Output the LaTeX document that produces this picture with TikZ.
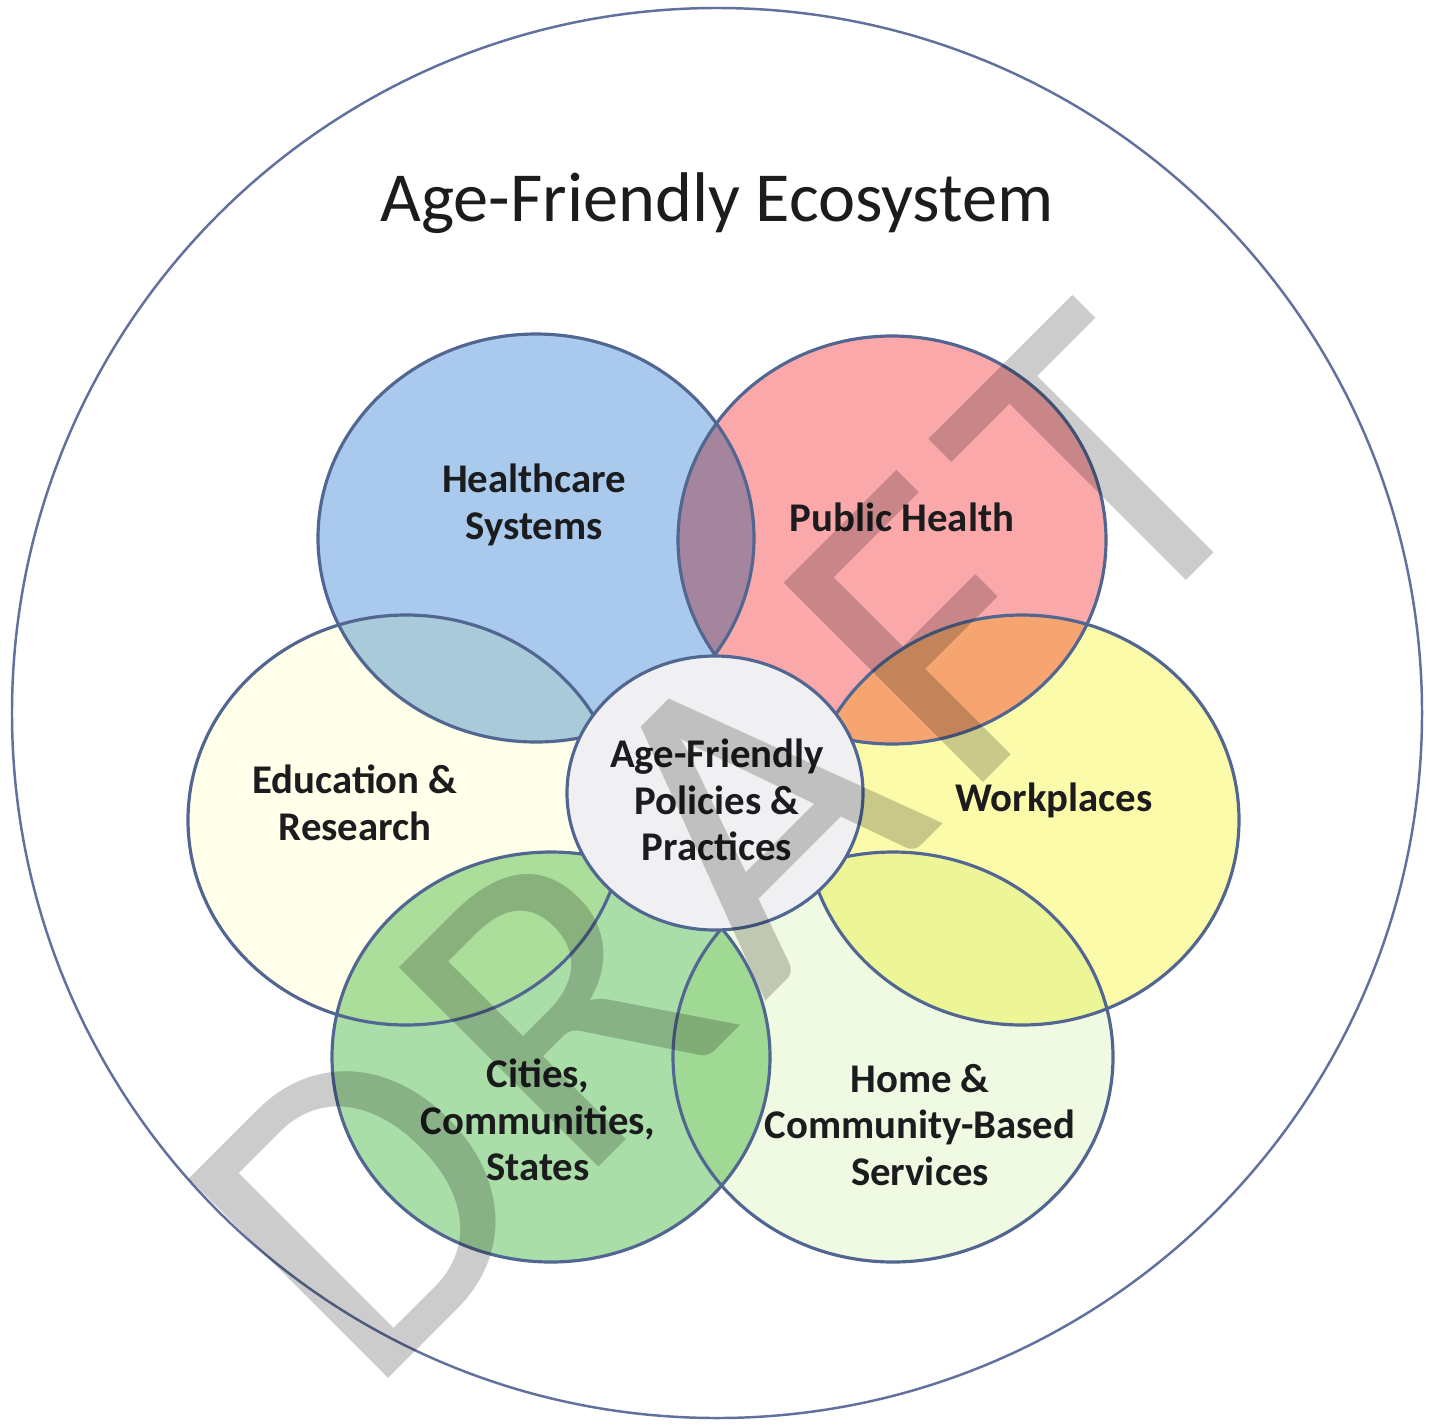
\documentclass[tikz,border=0pt]{standalone}
\usepackage{fontspec}
\setmainfont{Carlito}

\definecolor{ringline}{RGB}{98,112,158}
\definecolor{petalline}{RGB}{82,102,146}
\definecolor{healthblue}{RGB}{169,202,236}
\definecolor{publicred}{RGB}{250,168,170}
\definecolor{eduivory}{RGB}{255,255,234}
\definecolor{workyellow}{RGB}{251,251,170}
\definecolor{citygreen}{RGB}{170,222,168}
\definecolor{homegreen}{RGB}{240,250,226}
\definecolor{corefill}{RGB}{240,240,242}
\definecolor{labeltext}{RGB}{28,28,30}

\begin{document}
\begin{tikzpicture}[
  x=0.01cm, y=-0.01cm,
  petal/.style={draw=petalline, line width=0.9pt},
  wash/.style={blend mode=multiply},
  lbl/.style={font=\bfseries\fontsize{11.6}{13.2}\selectfont, align=center, text=labeltext, inner sep=0pt}
]
  \useasboundingbox[fill=white] (0,0) rectangle (1437,1424);

  % outer ring and heading
  \draw[ringline, line width=0.7pt] (717,713) circle [radius=705];
  \node[font=\fontsize{20}{22}\selectfont, text=labeltext] (title) at (717,203) {Age-Friendly Ecosystem};

  % petal centres
  \coordinate (hc) at (536,538);
  \coordinate (ph) at (892,540);
  \coordinate (ed) at (406,820);
  \coordinate (wp) at (1022,820);
  \coordinate (cc) at (551,1057);
  \coordinate (hm) at (893,1057);
  \coordinate (core) at (715,793);

  % washes first, so that overlaps mix
  \fill[wash, healthblue] (hc) ellipse [x radius=218, y radius=204];
  \fill[wash, publicred]  (ph) ellipse [x radius=214, y radius=204];
  \fill[wash, eduivory]   (ed) ellipse [x radius=218, y radius=205];
  \fill[wash, workyellow] (wp) ellipse [x radius=217, y radius=205];
  \fill[wash, citygreen]  (cc) ellipse [x radius=219, y radius=205];
  \fill[wash, homegreen]  (hm) ellipse [x radius=220, y radius=205];

  % then the outlines on top
  \draw[petal] (hc) ellipse [x radius=218, y radius=204];
  \draw[petal] (ph) ellipse [x radius=214, y radius=204];
  \draw[petal] (ed) ellipse [x radius=218, y radius=205];
  \draw[petal] (wp) ellipse [x radius=217, y radius=205];
  \draw[petal] (cc) ellipse [x radius=219, y radius=205];
  \draw[petal] (hm) ellipse [x radius=220, y radius=205];

  \filldraw[petal, fill=corefill] (core) ellipse [x radius=148, y radius=137];

  % labels
  \node[lbl] (hclbl) at (534,505) {Healthcare\\Systems};
  \node[lbl] (phlbl) at (902,517) {Public Health};
  \node[lbl] (edlbl) at (355,803) {Education \&\\Research};
  \node[lbl] (wplbl) at (1054,800) {Workplaces};
  \node[lbl] (corelbl) at (717,800) {Age-Friendly\\Policies \&\\Practices};
  \node[lbl] (cclbl) at (538,1120) {Cities,\\Communities,\\States};
  \node[lbl] (hmlbl) at (920,1125) {Home \&\\Community-Based\\Services};

  % watermark, letters spread a little
  \node[rotate=45, text=black, text opacity=0.2, inner sep=0pt,
        font=\fontsize{125}{125}\selectfont] (draft) at (722,845)
        {D\kern0.06em R\kern0.06em A\kern0.06em F\kern0.06em T};
\end{tikzpicture}
\end{document}
